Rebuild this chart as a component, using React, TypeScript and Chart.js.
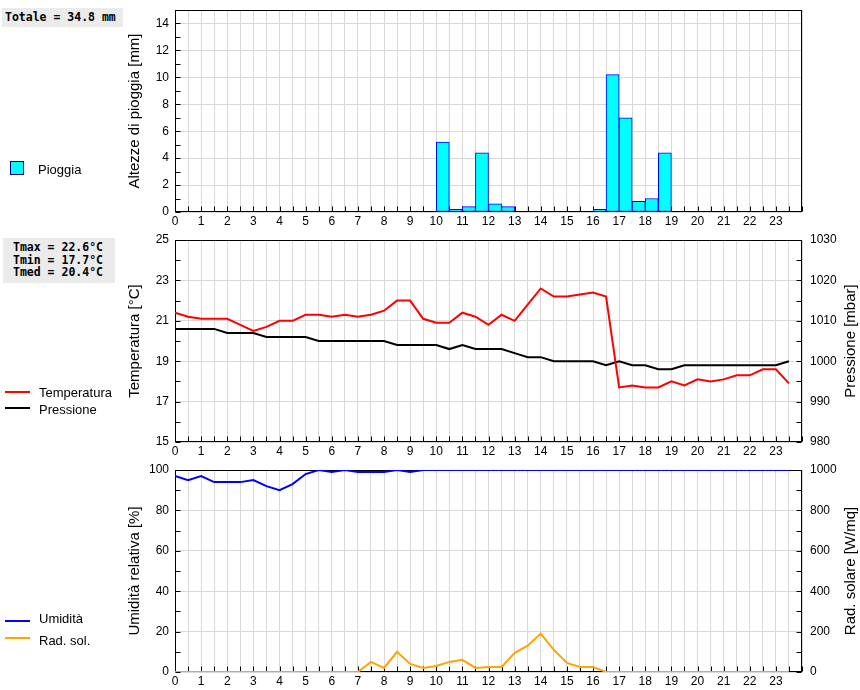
import React, { useEffect, useRef } from "react";
import { Chart, registerables } from "chart.js";

Chart.register(...registerables);

// ---------- data ----------
const HOURS = [
  0, 0.5, 1, 1.5, 2, 2.5, 3, 3.5, 4, 4.5, 5, 5.5, 6, 6.5, 7, 7.5, 8, 8.5, 9, 9.5,
  10, 10.5, 11, 11.5, 12, 12.5, 13, 13.5, 14, 14.5, 15, 15.5, 16, 16.5, 17, 17.5,
  18, 18.5, 19, 19.5, 20, 20.5, 21, 21.5, 22, 22.5, 23, 23.5,
];

const RAIN = [
  0, 0, 0, 0, 0, 0, 0, 0, 0, 0, 0, 0, 0, 0, 0, 0, 0, 0, 0, 0,
  5.2, 0.2, 0.4, 4.4, 0.6, 0.4, 0, 0, 0, 0, 0, 0, 0.2, 10.2, 7.0, 0.8,
  1.0, 4.4, 0, 0, 0, 0, 0, 0, 0, 0, 0, 0,
];

const TEMPERATURE = [
  21.4, 21.2, 21.1, 21.1, 21.1, 20.8, 20.5, 20.7, 21.0, 21.0, 21.3, 21.3, 21.2, 21.3, 21.2, 21.3, 21.5, 22.0, 22.0, 21.1,
  20.9, 20.9, 21.4, 21.2, 20.8, 21.3, 21.0, 21.8, 22.6, 22.2, 22.2, 22.3, 22.4, 22.2, 17.7, 17.8,
  17.7, 17.7, 18.0, 17.8, 18.1, 18.0, 18.1, 18.3, 18.3, 18.6, 18.6, 17.9,
];

const PRESSURE = [
  1008, 1008, 1008, 1008, 1007, 1007, 1007, 1006, 1006, 1006, 1006, 1005, 1005, 1005, 1005, 1005, 1005, 1004, 1004, 1004,
  1004, 1003, 1004, 1003, 1003, 1003, 1002, 1001, 1001, 1000, 1000, 1000, 1000, 999, 1000, 999,
  999, 998, 998, 999, 999, 999, 999, 999, 999, 999, 999, 1000,
];

const HUMIDITY = [
  97, 95, 97, 94, 94, 94, 95, 92, 90, 93, 98, 100, 99, 100, 99, 99, 99, 100, 99, 100,
  100, 100, 100, 100, 100, 100, 100, 100, 100, 100, 100, 100, 100, 100, 100, 100,
  100, 100, 100, 100, 100, 100, 100, 100, 100, 100, 100, 100,
];

const RADIATION = [
  0, 0, 0, 0, 0, 0, 0, 0, 0, 0, 0, 0, 0, 0, 0, 50, 20, 100, 40, 20,
  30, 50, 60, 20, 25, 25, 95, 130, 190, 110, 45, 25, 25, 0, 0, 0,
  0, 0, 0, 0, 0, 0, 0, 0, 0, 0, 0, 0,
];

const RAIN_TOTAL = "Totale = 34.8 mm";
const TEMP_STATS = ["Tmax = 22.6°C", "Tmin = 17.7°C", "Tmed = 20.4°C"];

// ---------- styles ----------
const FONT = "'Liberation Sans', Arial, Helvetica, sans-serif";
const MONO = "'DejaVu Sans Mono', 'Liberation Mono', monospace";
const GRID = "#d9d9d9";

const frameTicksPlugin = {
  id: "frameTicks",
  beforeDatasetsDraw(chart: any, _args: any, opts: any) {
    const { ctx, chartArea: a } = chart;
    ctx.save();
    ctx.strokeStyle = "#000";
    ctx.lineWidth = 1;
    const L = Math.round(a.left) + 0.5;
    const R = Math.round(a.right) - 0.5;
    const T = Math.round(a.top) + 0.5;
    const B = Math.round(a.bottom) - 0.5;
    ctx.strokeRect(L, T, R - L, B - T);
    ctx.beginPath();
    Object.values(chart.scales).forEach((s: any) => {
      s.ticks.forEach((t: any) => {
        const p = Math.round(s.getPixelForValue(t.value)) + 0.5;
        if (s.position === "bottom") {
          ctx.moveTo(p, B);
          ctx.lineTo(p, B - 5);
        } else if (s.position === "left") {
          ctx.moveTo(L, p);
          ctx.lineTo(L + 5, p);
        } else if (s.position === "right") {
          ctx.moveTo(R, p);
          ctx.lineTo(R - 5, p);
        }
      });
    });
    ctx.stroke();

    ctx.fillStyle = "#000";
    ctx.font = `15px ${FONT}`;
    ctx.textAlign = "center";
    ctx.textBaseline = "middle";
    const cy = (a.top + a.bottom) / 2;
    if (opts && opts.left) {
      ctx.save();
      ctx.translate(135, cy);
      ctx.rotate(-Math.PI / 2);
      ctx.fillText(opts.left, 0, 0);
      ctx.restore();
    }
    if (opts && opts.right) {
      ctx.save();
      ctx.translate(851, cy);
      ctx.rotate(-Math.PI / 2);
      ctx.fillText(opts.right, 0, 0);
      ctx.restore();
    }
    ctx.restore();
  },
};

const tickFont = { family: FONT, size: 12 };

function xScale() {
  return {
    type: "linear",
    position: "bottom",
    min: 0,
    max: 24,
    offset: false,
    afterFit: (s: any) => {
      s.height = 18;
      s.paddingLeft = 0;
      s.paddingRight = 0;
      s.paddingTop = 0;
      s.paddingBottom = 0;
    },
    grid: { color: GRID, drawTicks: false, offset: false },
    border: { display: false },
    ticks: {
      stepSize: 0.5,
      autoSkip: false,
      maxRotation: 0,
      minRotation: 0,
      padding: 2,
      color: "#000",
      font: tickFont,
      callback: (v: number) => (Number.isInteger(v) && v < 24 ? String(v) : ""),
    },
  };
}

function yScale(
  position: string,
  min: number,
  max: number,
  step: number,
  labelEvery: number,
  width: number,
  showGrid: boolean
) {
  const isLabel = (v: number) =>
    Math.abs((v - min) / labelEvery - Math.round((v - min) / labelEvery)) < 1e-6;
  return {
    type: "linear",
    position,
    min,
    max,
    afterFit: (s: any) => {
      s.width = width;
      s.paddingTop = 0;
      s.paddingBottom = 0;
      s.paddingLeft = 0;
      s.paddingRight = 0;
    },
    grid: {
      display: showGrid,
      drawTicks: false,
      color: (c: any) => (c.tick && isLabel(c.tick.value) ? GRID : "rgba(0,0,0,0)"),
    },
    border: { display: false },
    ticks: {
      stepSize: step,
      autoSkip: false,
      padding: position === "left" ? 6 : 8,
      color: "#000",
      font: tickFont,
      callback: (v: number) => (isLabel(v) ? String(v) : ""),
    },
  };
}

const basePlugins = (left: string, right?: string) => ({
  legend: { display: false },
  tooltip: { enabled: false },
  frameTicks: { left, right },
});

function useChart(ref: any, makeConfig: () => any) {
  useEffect(() => {
    if (!ref.current) return;
    const chart = new Chart(ref.current, makeConfig());
    return () => chart.destroy();
  }, []);
}

export default function App() {
  const rainRef = useRef<HTMLCanvasElement>(null);
  const tempRef = useRef<HTMLCanvasElement>(null);
  const humRef = useRef<HTMLCanvasElement>(null);

  useChart(rainRef, () => ({
    type: "bar",
    data: {
      datasets: [
        {
          label: "Pioggia",
          data: HOURS.map((h, i) => ({ x: h + 0.25, y: RAIN[i] })),
          backgroundColor: "#00ffff",
          borderColor: "#0000ff",
          borderWidth: 1,
          borderSkipped: false,
          barPercentage: 1,
          categoryPercentage: 1,
        },
      ],
    },
    options: {
      responsive: false,
      animation: false,
      layout: { padding: { top: 10, right: 58, left: 0, bottom: 0 } },
      scales: {
        x: xScale(),
        y: yScale("left", 0, 15, 1, 2, 175, true),
      },
      plugins: basePlugins("Altezze di pioggia [mm]"),
    },
    plugins: [frameTicksPlugin],
  }));

  useChart(tempRef, () => ({
    type: "line",
    data: {
      datasets: [
        {
          label: "Temperatura",
          data: HOURS.map((h, i) => ({ x: h, y: TEMPERATURE[i] })),
          borderColor: "#ff0000",
          borderWidth: 2,
          pointRadius: 0,
          tension: 0,
          yAxisID: "y",
        },
        {
          label: "Pressione",
          data: HOURS.map((h, i) => ({ x: h, y: PRESSURE[i] })),
          borderColor: "#000000",
          borderWidth: 2,
          pointRadius: 0,
          tension: 0,
          yAxisID: "y1",
        },
      ],
    },
    options: {
      responsive: false,
      animation: false,
      layout: { padding: { top: 10, right: 0, left: 0, bottom: 0 } },
      scales: {
        x: xScale(),
        y: yScale("left", 15, 25, 1, 2, 175, true),
        y1: yScale("right", 980, 1030, 5, 10, 58, false),
      },
      plugins: basePlugins("Temperatura [°C]", "Pressione [mbar]"),
    },
    plugins: [frameTicksPlugin],
  }));

  useChart(humRef, () => ({
    type: "line",
    data: {
      datasets: [
        {
          label: "Umidità",
          data: HOURS.map((h, i) => ({ x: h, y: HUMIDITY[i] })),
          borderColor: "#0000ff",
          borderWidth: 2,
          pointRadius: 0,
          tension: 0,
          yAxisID: "y",
        },
        {
          label: "Rad. sol.",
          data: HOURS.map((h, i) => ({ x: h, y: RADIATION[i] })),
          borderColor: "#ffa500",
          borderWidth: 2,
          pointRadius: 0,
          tension: 0,
          yAxisID: "y1",
        },
      ],
    },
    options: {
      responsive: false,
      animation: false,
      layout: { padding: { top: 10, right: 0, left: 0, bottom: 0 } },
      scales: {
        x: xScale(),
        y: yScale("left", 0, 100, 10, 20, 175, true),
        y1: yScale("right", 0, 1000, 100, 200, 58, false),
      },
      plugins: basePlugins("Umidità relativa [%]", "Rad. solare [W/mq]"),
    },
    plugins: [frameTicksPlugin],
  }));

  const abs = (left: number, top: number, extra: any = {}) => ({
    position: "absolute" as const,
    left,
    top,
    ...extra,
  });

  const legendText = (text: string, left: number, cy: number) => (
    <div
      style={abs(left, cy - 8, {
        fontFamily: FONT,
        fontSize: 13,
        lineHeight: "16px",
        color: "#000",
        whiteSpace: "nowrap",
      })}
    >
      {text}
    </div>
  );

  const legendLine = (color: string, top: number) => (
    <div style={abs(5, top, { width: 25, height: 2, background: color })} />
  );

  return (
    <div
      style={{
        position: "absolute",
        left: 0,
        top: 0,
        width: 860,
        height: 690,
        background: "#fff",
        overflow: "hidden",
      }}
    >
      <canvas ref={rainRef} width={860} height={230} style={abs(0, 0, { display: "block" })} />
      <canvas ref={tempRef} width={860} height={230} style={abs(0, 230, { display: "block" })} />
      <canvas ref={humRef} width={860} height={230} style={abs(0, 460, { display: "block" })} />

      {/* info boxes */}
      <div
        style={abs(2, 8, {
          width: 121,
          height: 19,
          background: "#ebebeb",
          fontFamily: MONO,
          fontWeight: "bold",
          fontSize: 11.5,
          lineHeight: "19px",
          paddingLeft: 3,
          boxSizing: "border-box",
          whiteSpace: "nowrap",
        })}
      >
        {RAIN_TOTAL}
      </div>
      <div
        style={abs(3, 238, {
          width: 112,
          height: 45,
          background: "#ebebeb",
          fontFamily: MONO,
          fontWeight: "bold",
          fontSize: 11.5,
          lineHeight: "12.5px",
          paddingLeft: 10,
          paddingTop: 3,
          boxSizing: "border-box",
          whiteSpace: "nowrap",
        })}
      >
        {TEMP_STATS.map((s) => (
          <div key={s}>{s}</div>
        ))}
      </div>

      {/* legends */}
      <div
        style={abs(10, 161, {
          width: 14,
          height: 14,
          background: "#00ffff",
          border: "1px solid #00008b",
          boxSizing: "border-box",
        })}
      />
      {legendText("Pioggia", 38, 170)}

      {legendLine("#ff0000", 391)}
      {legendText("Temperatura", 39, 393)}
      {legendLine("#000000", 407)}
      {legendText("Pressione", 39, 410)}

      {legendLine("#0000ff", 620)}
      {legendText("Umidità", 39, 619)}
      {legendLine("#ffa500", 637)}
      {legendText("Rad. sol.", 39, 641)}
    </div>
  );
}
